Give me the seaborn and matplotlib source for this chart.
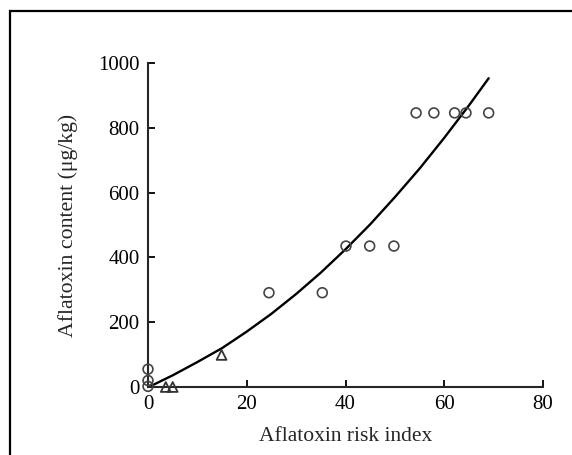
import matplotlib
matplotlib.use("Agg")
import matplotlib.pyplot as plt
from matplotlib.patches import Rectangle
import seaborn as sns
import pandas as pd

# circles (observed points)
circle_x = [0, 0, 0, 24.5, 35.3, 40.1, 44.9, 49.8, 54.3, 57.9, 62.1, 64.4, 69.0]
circle_y = [55, 20, 2, 291, 291, 435, 435, 435, 846, 846, 846, 846, 846]
# triangles
tri_x = [3.6, 5.0, 14.9]
tri_y = [0, 0, 99]
# fitted curve
curve_x = [0.7, 5, 10, 15, 20, 25, 30, 35, 40, 45, 50, 55, 60, 65, 69]
curve_y = [4, 36, 77, 120, 171, 226, 287, 353, 425, 502, 586, 674, 769, 869, 953]

sns.set_style("ticks")
plt.rcParams['font.family'] = ['Liberation Serif', 'DejaVu Serif']

W, H = 572, 455
fig = plt.figure(figsize=(W / 100, H / 100), dpi=100)
ax = fig.add_axes([148 / W, (H - 387) / H, 395 / W, 324 / H])

pts = pd.DataFrame({'x': circle_x, 'y': circle_y})
tri = pd.DataFrame({'x': tri_x, 'y': tri_y})
cur = pd.DataFrame({'x': curve_x, 'y': curve_y})

sns.lineplot(data=cur, x='x', y='y', ax=ax, color='black', lw=1.7, sort=True, zorder=2)
sns.scatterplot(data=pts, x='x', y='y', ax=ax, marker='o', s=50, facecolor='none',
                edgecolor='#444444', linewidth=1.2, clip_on=False, zorder=3)
sns.scatterplot(data=tri, x='x', y='y', ax=ax, marker='^', s=50, facecolor='none',
                edgecolor='#333333', linewidth=1.3, clip_on=False, zorder=3)

ax.set_xlim(0, 80)
ax.set_ylim(0, 1000)
ax.set_xticks([0, 20, 40, 60, 80])
ax.set_yticks([0, 200, 400, 600, 800, 1000])
sns.despine(ax=ax)
for s in ['left', 'bottom']:
    ax.spines[s].set_linewidth(1.5)
ax.tick_params(direction='in', length=5, width=1.3, labelsize=15, pad=6, colors='black')

ax.set_xlabel('Aflatoxin risk index', fontsize=15.5)
ax.set_ylabel('Aflatoxin content (μg/kg)', fontsize=15.7)
ax.xaxis.set_label_coords(0.5, -0.122)
ax.yaxis.set_label_coords(-0.177, 0.5)

# outer page frame
fig.patches.append(Rectangle((10 / W, -0.1), 1.2, (H - 11) / H + 0.1, transform=fig.transFigure,
                             fill=False, edgecolor='black', lw=1.6, clip_on=False))

fig.savefig('out.png', dpi=100)
